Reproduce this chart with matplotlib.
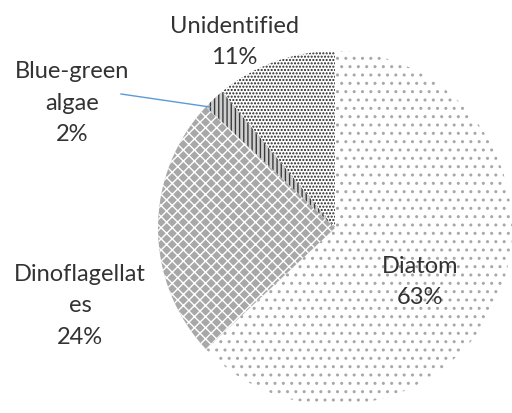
import matplotlib
matplotlib.use('Agg')
import matplotlib.pyplot as plt

# groups, clockwise from 12 o'clock
groups = ['Diatom', 'Dinoflagellates', 'Blue-green algae', 'Unidentified']
shares = [63, 24, 2, 11]
label_text = ['Diatom\n63%', 'Dinoflagellat\nes\n24%', 'Blue-green\nalgae\n2%', 'Unidentified\n11%']

faces = ['white', '#a8a8a8', '#cfcfcf', 'white']
hatch_cols = ['#a8a8a8', 'white', '#3a3a3a', '#222222']
hatches = ['..', 'xxx', '||||', '.....']

W, H = 512, 414
fig = plt.figure(figsize=(W / 100, H / 100), dpi=100)
plt.rcParams['hatch.linewidth'] = 1.0

# pie centre (335, 229) px, radius 177 px
cx, cy, r = 335, 229, 177
ax = fig.add_axes([(cx - r) / W, (H - cy - r) / H, 2 * r / W, 2 * r / H])
wedges, _ = ax.pie(shares, startangle=90, counterclock=False, radius=1,
                   wedgeprops=dict(linewidth=0))
for w, fc, hc, h in zip(wedges, faces, hatch_cols, hatches):
    w.set_facecolor(fc)
    w.set_edgecolor(hc)
    w.set_hatch(h)
ax.set_xlim(-1, 1)
ax.set_ylim(-1, 1)
ax.set_aspect('equal')
ax.axis('off')

# label positions in pixels (x, y of block centre)
pos = [(420, 282), (80, 306), (72, 103), (234, 42)]
for t, (x, y) in zip(label_text, pos):
    fig.text(x / W, 1 - y / H, t, ha='center', va='center', fontsize=17,
             family='Lato', color='#333333', linespacing=1.6)

# leader line for the small slice
fig.add_artist(plt.Line2D([121 / W, 210 / W], [1 - 95 / H, 1 - 108 / H],
                          color='#5b9bd5', lw=1))

fig.savefig('out.png', dpi=100)
